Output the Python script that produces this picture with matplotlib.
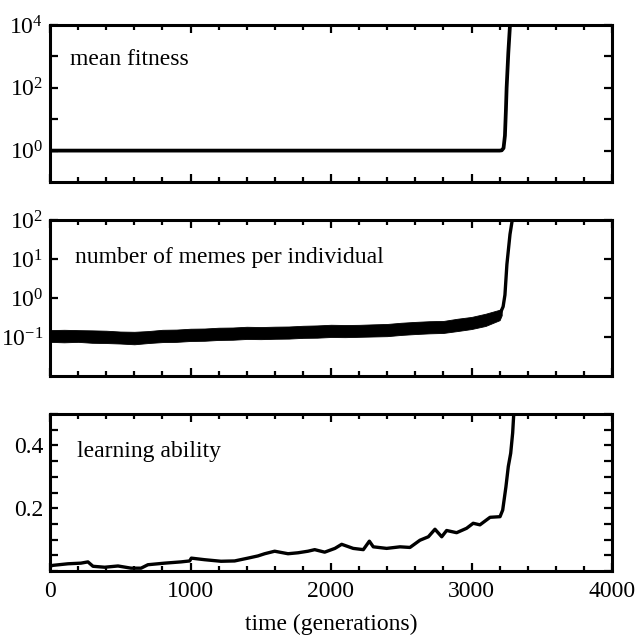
import matplotlib
matplotlib.use('Agg')
import matplotlib.pyplot as plt
from matplotlib.ticker import FixedLocator, MultipleLocator, NullLocator, LogFormatterMathtext, NullFormatter

plt.rcParams['font.family'] = ['Liberation Serif', 'DejaVu Serif']
plt.rcParams['mathtext.fontset'] = 'custom'
plt.rcParams['mathtext.rm'] = 'Liberation Serif'
plt.rcParams['mathtext.it'] = 'Liberation Serif:italic'
plt.rcParams['font.size'] = 17

# ---- mean fitness (log) ----
fit_t = [0, 500, 1000, 1500, 2000, 2500, 3000, 3200, 3215, 3228, 3238, 3245, 3250, 3262, 3274, 3285]
fit_v = [1.0, 1.0, 1.0, 1.0, 1.0, 1.0, 1.0, 1.0, 1.02, 1.2, 3.0, 20, 100, 1300, 1e4, 5e4]

# ---- memes per individual: noisy band (lower / upper edge) then the take-off ----
mem_t = [0, 100, 200, 300, 400, 500, 600, 700, 800, 900, 1000, 1100, 1200, 1300, 1400, 1500, 1600,
         1700, 1800, 1900, 2000, 2100, 2200, 2300, 2400, 2500, 2600, 2700, 2800, 2900, 3000, 3100, 3200, 3215]
mem_lo = [0.075, 0.073, 0.075, 0.071, 0.070, 0.068, 0.065, 0.070, 0.074, 0.075, 0.079, 0.080, 0.084,
          0.085, 0.089, 0.088, 0.090, 0.091, 0.095, 0.096, 0.100, 0.099, 0.101, 0.103, 0.105, 0.113,
          0.119, 0.124, 0.127, 0.142, 0.160, 0.192, 0.27, 0.36]
mem_hi = [0.150, 0.153, 0.150, 0.148, 0.145, 0.138, 0.136, 0.142, 0.153, 0.155, 0.163, 0.165, 0.173,
          0.175, 0.183, 0.180, 0.184, 0.186, 0.194, 0.198, 0.206, 0.203, 0.205, 0.211, 0.216, 0.232,
          0.244, 0.254, 0.258, 0.294, 0.327, 0.395, 0.50, 0.55]
rise_t = [3210, 3225, 3238, 3252, 3274, 3292]
rise_v = [0.45, 0.6, 1.2, 7.3, 43, 110]

# ---- learning ability (linear) ----
learn_t = [0, 21, 128, 220, 270, 306, 389, 484, 577, 648, 697, 816, 932, 994, 1006, 1100, 1217, 1314,
           1409, 1480, 1528, 1599, 1694, 1765, 1836, 1884, 1955, 2028, 2076, 2158, 2230, 2273, 2301,
           2396, 2491, 2562, 2633, 2693, 2740, 2788, 2823, 2894, 2965, 3012, 3060, 3132, 3203, 3222,
           3245, 3262, 3279, 3293, 3302]
learn_v = [0.015, 0.018, 0.023, 0.025, 0.029, 0.015, 0.012, 0.016, 0.009, 0.009, 0.020, 0.025, 0.029,
           0.032, 0.041, 0.036, 0.031, 0.032, 0.041, 0.048, 0.055, 0.063, 0.055, 0.058, 0.063, 0.068,
           0.060, 0.072, 0.085, 0.072, 0.068, 0.095, 0.077, 0.072, 0.077, 0.075, 0.098, 0.109, 0.133,
           0.109, 0.129, 0.122, 0.136, 0.152, 0.147, 0.171, 0.173, 0.194, 0.268, 0.333, 0.375, 0.44, 0.51]

fig = plt.figure(figsize=(6.35, 6.37), dpi=100)
left, width = 50 / 635, 562 / 635
ax1 = fig.add_axes([left, 1 - 182 / 637, width, 157 / 637])
ax2 = fig.add_axes([left, 1 - 376 / 637, width, 156 / 637])
ax3 = fig.add_axes([left, 1 - 571 / 637, width, 157 / 637])

ax1.plot(fit_t, fit_v, color='black', lw=2.7)
ax1.set_yscale('log')
ax1.set_ylim(0.1, 1e4)
ax1.yaxis.set_major_locator(FixedLocator([1, 1e2, 1e4]))
ax1.yaxis.set_major_formatter(LogFormatterMathtext())
ax1.yaxis.set_minor_locator(FixedLocator([10, 1e3]))
ax1.yaxis.set_minor_formatter(NullFormatter())

ax2.fill_between(mem_t, mem_lo, mem_hi, color='black', lw=0.6)
ax2.plot(rise_t, rise_v, color='black', lw=2.4)
ax2.set_yscale('log')
ax2.set_ylim(0.01, 100)
ax2.yaxis.set_major_locator(FixedLocator([0.1, 1, 10, 100]))
ax2.yaxis.set_major_formatter(LogFormatterMathtext())
ax2.yaxis.set_minor_locator(NullLocator())

ax3.plot(learn_t, learn_v, color='black', lw=2.4)
ax3.set_ylim(0, 0.5)
ax3.yaxis.set_major_locator(FixedLocator([0.2, 0.4]))
ax3.yaxis.set_minor_locator(MultipleLocator(0.05))
ax3.set_xlabel('time (generations)', labelpad=9)

for ax in (ax1, ax2, ax3):
    ax.set_xlim(0, 4000)
    ax.xaxis.set_major_locator(MultipleLocator(1000))
    ax.xaxis.set_minor_locator(MultipleLocator(200))
    for s in ax.spines.values():
        s.set_linewidth(2.2)
    ax.tick_params(which='both', direction='in', top=True, right=True, width=1.6, pad=5)
    ax.tick_params(axis='x', which='major', length=6)
    ax.tick_params(axis='x', which='minor', length=3.5)
    ax.tick_params(axis='y', which='both', length=5.5)
    ax.tick_params(axis='x', which='major', pad=7)

ax1.tick_params(axis='x', labelbottom=False)
ax2.tick_params(axis='x', labelbottom=False)

ax1.text(0.036, 0.745, 'mean fitness', transform=ax1.transAxes, va='baseline')
ax2.text(0.044, 0.722, 'number of memes per individual', transform=ax2.transAxes, va='baseline')
ax3.text(0.048, 0.728, 'learning ability', transform=ax3.transAxes, va='baseline')

fig.savefig('out.png', dpi=100)
